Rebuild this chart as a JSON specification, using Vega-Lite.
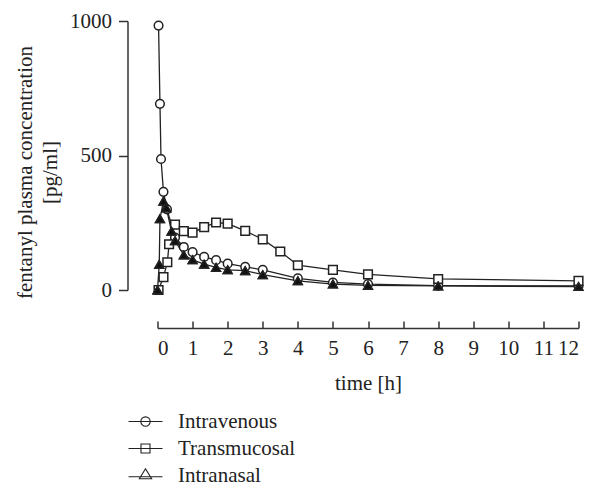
{
  "$schema": "https://vega.github.io/schema/vega-lite/v6.json",
  "width": 421,
  "height": 269,
  "autosize": "none",
  "padding": {"left": 157.5, "top": 21, "right": 16.5, "bottom": 198},
  "background": "white",
  "config": {
    "view": {"stroke": null},
    "font": "Liberation Serif",
    "axis": {
      "grid": false,
      "domainColor": "#333333",
      "domainWidth": 1.5,
      "tickColor": "#333333",
      "tickWidth": 1.5,
      "labelFont": "Liberation Serif",
      "labelFontSize": 21,
      "labelColor": "#222222",
      "titleFont": "Liberation Serif",
      "titleFontSize": 21,
      "titleFontWeight": "normal",
      "titleColor": "#222222"
    },
    "legend": {
      "labelFont": "Liberation Serif",
      "labelFontSize": 21,
      "labelColor": "#222222"
    }
  },
  "data": {
    "values": [
      {"t": 0.03, "c": 983, "series": "Intravenous"},
      {"t": 0.07, "c": 692, "series": "Intravenous"},
      {"t": 0.1, "c": 487, "series": "Intravenous"},
      {"t": 0.17, "c": 365, "series": "Intravenous"},
      {"t": 0.27, "c": 300, "series": "Intravenous"},
      {"t": 0.5, "c": 195, "series": "Intravenous"},
      {"t": 0.75, "c": 160, "series": "Intravenous"},
      {"t": 1.0, "c": 141, "series": "Intravenous"},
      {"t": 1.33, "c": 123, "series": "Intravenous"},
      {"t": 1.67, "c": 111, "series": "Intravenous"},
      {"t": 2.0, "c": 98, "series": "Intravenous"},
      {"t": 2.5, "c": 86, "series": "Intravenous"},
      {"t": 3.0, "c": 75, "series": "Intravenous"},
      {"t": 4.0, "c": 43, "series": "Intravenous"},
      {"t": 5.0, "c": 28, "series": "Intravenous"},
      {"t": 6.0, "c": 22, "series": "Intravenous"},
      {"t": 8.0, "c": 16, "series": "Intravenous"},
      {"t": 12.0, "c": 15, "series": "Intravenous"},
      {"t": 0.03, "c": 0, "series": "Transmucosal"},
      {"t": 0.17, "c": 48, "series": "Transmucosal"},
      {"t": 0.28, "c": 103, "series": "Transmucosal"},
      {"t": 0.33, "c": 170, "series": "Transmucosal"},
      {"t": 0.5, "c": 243, "series": "Transmucosal"},
      {"t": 0.75, "c": 219, "series": "Transmucosal"},
      {"t": 1.0, "c": 213, "series": "Transmucosal"},
      {"t": 1.33, "c": 234, "series": "Transmucosal"},
      {"t": 1.67, "c": 251, "series": "Transmucosal"},
      {"t": 2.0, "c": 247, "series": "Transmucosal"},
      {"t": 2.5, "c": 220, "series": "Transmucosal"},
      {"t": 3.0, "c": 188, "series": "Transmucosal"},
      {"t": 3.5, "c": 143, "series": "Transmucosal"},
      {"t": 4.0, "c": 92, "series": "Transmucosal"},
      {"t": 5.0, "c": 75, "series": "Transmucosal"},
      {"t": 6.0, "c": 58, "series": "Transmucosal"},
      {"t": 8.0, "c": 41, "series": "Transmucosal"},
      {"t": 12.0, "c": 34, "series": "Transmucosal"},
      {"t": 0.0, "c": 0, "series": "Intranasal"},
      {"t": 0.05, "c": 95, "series": "Intranasal"},
      {"t": 0.07, "c": 265, "series": "Intranasal"},
      {"t": 0.17, "c": 330, "series": "Intranasal"},
      {"t": 0.25, "c": 305, "series": "Intranasal"},
      {"t": 0.4, "c": 218, "series": "Intranasal"},
      {"t": 0.5, "c": 183, "series": "Intranasal"},
      {"t": 0.75, "c": 130, "series": "Intranasal"},
      {"t": 1.0, "c": 112, "series": "Intranasal"},
      {"t": 1.33, "c": 96, "series": "Intranasal"},
      {"t": 1.67, "c": 84, "series": "Intranasal"},
      {"t": 2.0, "c": 75, "series": "Intranasal"},
      {"t": 2.5, "c": 72, "series": "Intranasal"},
      {"t": 3.0, "c": 57, "series": "Intranasal"},
      {"t": 4.0, "c": 34, "series": "Intranasal"},
      {"t": 5.0, "c": 22, "series": "Intranasal"},
      {"t": 6.0, "c": 17, "series": "Intranasal"},
      {"t": 8.0, "c": 15, "series": "Intranasal"},
      {"t": 12.0, "c": 13, "series": "Intranasal"}
    ]
  },
  "encoding": {
    "x": {
      "field": "t",
      "type": "quantitative",
      "scale": {"domain": [0, 12], "nice": false},
      "axis": {
        "title": "time [h]",
        "values": [0, 1, 2, 3, 4, 5, 6, 7, 8, 9, 10, 11, 12],
        "offset": 38,
        "tickSize": -7,
        "labelPadding": 16,
        "titlePadding": 14
      }
    },
    "y": {
      "field": "c",
      "type": "quantitative",
      "scale": {"domain": [0, 1000], "nice": false},
      "axis": {
        "title": ["fentanyl plasma concentration", "[pg/ml]"],
        "values": [0, 500, 1000],
        "format": "d",
        "offset": 30,
        "tickSize": 9,
        "labelPadding": 7,
        "titlePadding": 9,
        "titleLineHeight": 25,
        "titleY": 151
      }
    }
  },
  "layer": [
    {
      "mark": {"type": "line", "color": "#222222", "strokeWidth": 1.3},
      "encoding": {"detail": {"field": "series"}}
    },
    {
      "mark": {"type": "point", "filled": true, "fill": "#ffffff", "strokeWidth": 1.5, "opacity": 1},
      "encoding": {
        "shape": {
          "field": "series",
          "type": "nominal",
          "scale": {"domain": ["Transmucosal", "Intranasal", "Intravenous"], "range": ["square", "triangle-up", "circle"]},
          "legend": null
        },
        "stroke": {
          "field": "series",
          "type": "nominal",
          "scale": {"domain": ["Intravenous", "Transmucosal", "Intranasal"], "range": ["#222222", "#222222", "#222222"]},
          "legend": {
            "title": null,
            "orient": "none",
            "legendX": -22.5,
            "legendY": 390,
            "direction": "vertical",
            "symbolSize": 289,
            "symbolFillColor": "white",
            "symbolStrokeWidth": 1.1,
            "symbolType": {"expr": "datum.value === 'Intravenous' ? 'M-2,0L2,0M0.55,0A0.55,0.55,0,1,1,-0.55,0A0.55,0.55,0,1,1,0.55,0Z' : datum.value === 'Transmucosal' ? 'M-2,0L2,0M-0.53,-0.53L0.53,-0.53L0.53,0.53L-0.53,0.53Z' : 'M-2,0.15L2,0.15M0,-0.8L0.72,0.38L-0.72,0.38Z'"},
            "rowPadding": 5,
            "labelOffset": 22
          }
        },
        "size": {"value": 75}
      }
    },
    {
      "transform": [{"filter": "datum.series === 'Intranasal'"}],
      "mark": {"type": "point", "shape": "triangle-up", "filled": true, "fill": "#111111", "stroke": "#222222", "strokeWidth": 1.5, "opacity": 1},
      "encoding": {
        "size": {"value": 75}
      }
    }
  ]
}
